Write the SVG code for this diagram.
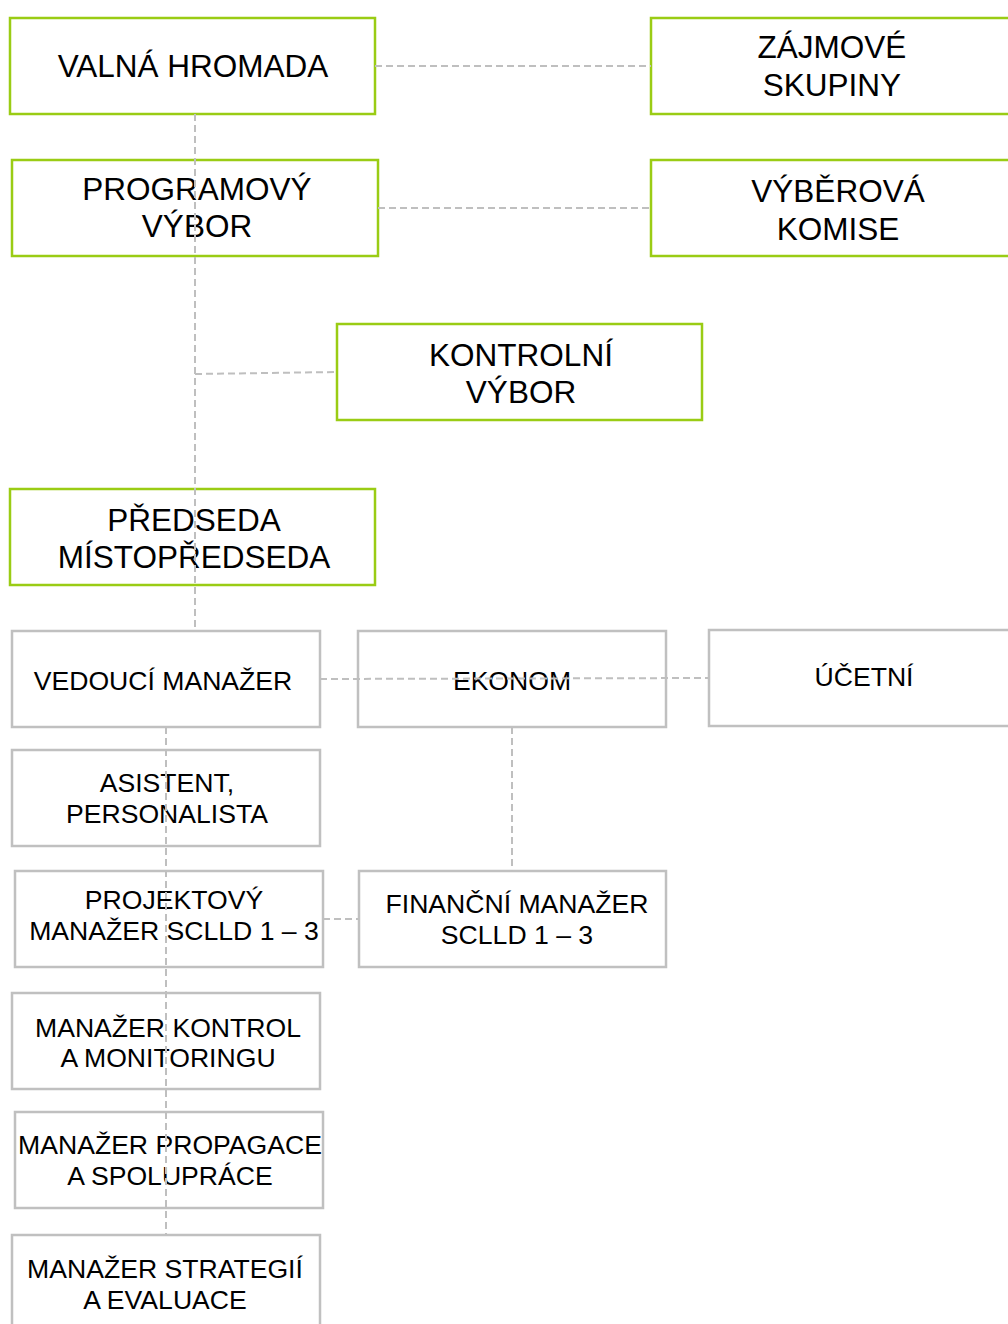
<svg xmlns="http://www.w3.org/2000/svg" width="1008" height="1324" viewBox="0 0 1008 1324">
<style>
.g{fill:#fff;stroke:#9acc14;stroke-width:2.5}
.s{fill:#fff;stroke:#c0c0c0;stroke-width:2.5}
.t1{font-family:"Liberation Sans",Arial,sans-serif;font-size:31.5px;fill:#000;text-anchor:middle}
.t2{font-family:"Liberation Sans",Arial,sans-serif;font-size:26.6px;fill:#000;text-anchor:middle}
.c{fill:none;stroke:#bfbfbf;stroke-width:2;stroke-dasharray:7 4}
</style>
<rect width="1008" height="1324" fill="#fff"/>
<g id="valna-hromada"><rect class="g" x="10" y="18" width="365" height="96"/><text class="t1" x="193" y="77">VALNÁ HROMADA</text></g>
<g id="zajmove-skupiny"><rect class="g" x="651" y="18" width="370" height="96"/><text class="t1" x="832" y="58">ZÁJMOVÉ</text><text class="t1" x="832" y="96">SKUPINY</text></g>
<g id="programovy-vybor"><rect class="g" x="12" y="160" width="366" height="96"/><text class="t1" x="197" y="200">PROGRAMOVÝ</text><text class="t1" x="197" y="237">VÝBOR</text></g>
<g id="vyberova-komise"><rect class="g" x="651" y="160" width="370" height="96"/><text class="t1" x="838" y="202">VÝBĚROVÁ</text><text class="t1" x="838" y="240">KOMISE</text></g>
<g id="kontrolni-vybor"><rect class="g" x="337" y="324" width="365" height="96"/><text class="t1" x="521" y="366">KONTROLNÍ</text><text class="t1" x="521" y="403">VÝBOR</text></g>
<g id="predseda"><rect class="g" x="10" y="489" width="365" height="96"/><text class="t1" x="194" y="531">PŘEDSEDA</text><text class="t1" x="194" y="568">MÍSTOPŘEDSEDA</text></g>
<g id="vedouci-manazer"><rect class="s" x="12" y="631" width="308" height="96"/><text class="t2" x="163" y="690">VEDOUCÍ MANAŽER</text></g>
<g id="ekonom"><rect class="s" x="358" y="631" width="308" height="96"/><text class="t2" x="512" y="690">EKONOM</text></g>
<g id="ucetni"><rect class="s" x="709" y="630" width="310" height="96"/><text class="t2" x="864" y="686">ÚČETNÍ</text></g>
<g id="asistent"><rect class="s" x="12" y="750" width="308" height="96"/><text class="t2" x="167" y="792">ASISTENT,</text><text class="t2" x="167" y="823">PERSONALISTA</text></g>
<g id="projektovy-manazer"><rect class="s" x="15" y="871" width="308" height="96"/><text class="t2" x="174" y="909">PROJEKTOVÝ</text><text class="t2" x="174" y="940">MANAŽER SCLLD 1 – 3</text></g>
<g id="financni-manazer"><rect class="s" x="359" y="871" width="307" height="96"/><text class="t2" x="517" y="913">FINANČNÍ MANAŽER</text><text class="t2" x="517" y="944">SCLLD 1 – 3</text></g>
<g id="manazer-kontrol"><rect class="s" x="12" y="993" width="308" height="96"/><text class="t2" x="168" y="1037">MANAŽER KONTROL</text><text class="t2" x="168" y="1067">A MONITORINGU</text></g>
<g id="manazer-propagace"><rect class="s" x="15" y="1112" width="308" height="96"/><text class="t2" x="170" y="1154">MANAŽER PROPAGACE</text><text class="t2" x="170" y="1185">A SPOLUPRÁCE</text></g>
<g id="manazer-strategii"><rect class="s" x="12" y="1235" width="308" height="100"/><text class="t2" x="165" y="1278">MANAŽER STRATEGIÍ</text><text class="t2" x="165" y="1309">A EVALUACE</text></g>
<g id="connectors">
<line class="c" x1="195" y1="114" x2="195" y2="631"/>
<line class="c" x1="375" y1="66" x2="651" y2="66"/>
<line class="c" x1="378" y1="208" x2="651" y2="208"/>
<line class="c" x1="195" y1="374" x2="337" y2="372"/>
<line class="c" x1="166" y1="727" x2="166" y2="1235"/>
<line class="c" x1="320" y1="679" x2="709" y2="678"/>
<line class="c" x1="512" y1="727" x2="512" y2="871"/>
<line class="c" x1="323" y1="919" x2="359" y2="919"/>
</g>
</svg>
